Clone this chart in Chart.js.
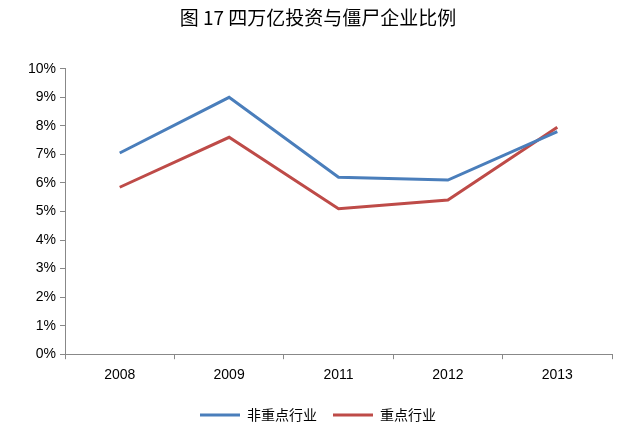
<!DOCTYPE html>
<html><head><meta charset="utf-8">
<script src="https://cdn.jsdelivr.net/npm/chart.js@4"></script>
<style>body{margin:0;background:#fff}#w{width:640px;height:436px}</style>
</head><body><div id="w"><canvas id="c"></canvas></div>
<script>
const categories=['2008','2009','2011','2012','2013'];
const nonKey=[7.05,9.0,6.2,6.1,7.8];
const key=[5.85,7.6,5.1,5.4,7.95];
const yTicks=[0,1,2,3,4,5,6,7,8,9,10];
new Chart(document.getElementById('c'),{type:'line',
data:{labels:categories,datasets:[
{label:'非重点行业',data:nonKey,borderColor:'#4a7ebb',backgroundColor:'#4a7ebb',borderWidth:3,pointRadius:0,tension:0},
{label:'重点行业',data:key,borderColor:'#be4b48',backgroundColor:'#be4b48',borderWidth:3,pointRadius:0,tension:0}]},
options:{responsive:true,maintainAspectRatio:false,animation:false,
layout:{padding:{left:24,right:28,top:0,bottom:4}},
plugins:{title:{display:true,text:'图 17 四万亿投资与僵尸企业比例',font:{family:'Noto Sans CJK SC',size:19,weight:'normal'},color:'#000',padding:{top:6,bottom:40}},
legend:{position:'bottom',labels:{boxWidth:40,boxHeight:0,font:{family:'Noto Sans CJK SC',size:14},color:'#000',padding:16}}},
scales:{x:{offset:true,grid:{drawOnChartArea:false,offset:true,tickLength:5,color:'#888'},border:{color:'#888'},ticks:{color:'#000',font:{family:'Liberation Sans',size:14},padding:8}},
y:{min:0,max:10,afterBuildTicks:a=>{a.ticks=yTicks.map(v=>({value:v}))},grid:{drawOnChartArea:false,tickLength:5,color:'#888'},border:{color:'#888'},ticks:{color:'#000',font:{family:'Liberation Sans',size:14},padding:4,callback:v=>v+'%'}}}}});
</script></body></html>
